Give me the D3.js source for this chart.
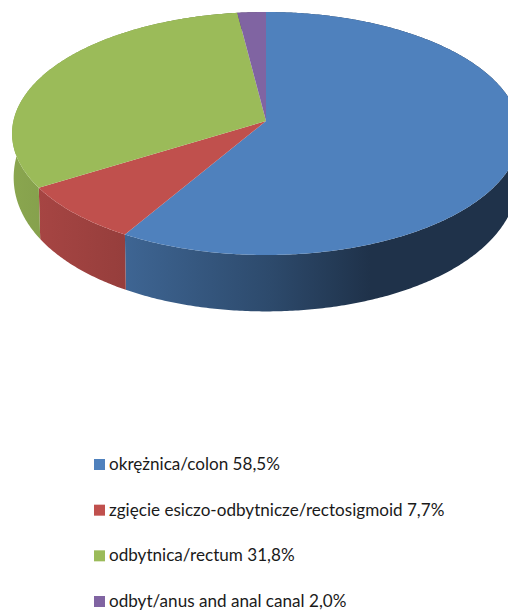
<!DOCTYPE html>
<html>
<head>
<meta charset="utf-8">
<style>
  html, body { margin: 0; padding: 0; background: #fff; overflow: hidden; }
  svg { display: block; }
  text { font-family: Lato, "Open Sans", sans-serif; fill: #1a1a1a; }
</style>
<script src="https://cdn.jsdelivr.net/npm/d3@7"></script>
</head>
<body>
<div id="chart"></div>
<script>
const categories = [
  "okrężnica/colon",
  "zgięcie esiczo-odbytnicze/rectosigmoid",
  "odbytnica/rectum",
  "odbyt/anus and anal canal"
]
const values = [58.5, 7.7, 31.8, 2.0]
const valueLabels = ["58,5%", "7,7%", "31,8%", "2,0%"]
const colors = ["#4f81bd", "#c0504d", "#9bbb59", "#8064a2"]

const width = 508
const height = 610

// projective disk, fitted to the reference rim
const originX = 266
const topRim = { originY: 121, radiusX: 252.6, radiusY: 120.2, tiltX: 0.1029, tiltY: 0.1029 }
const bottomRim = { originY: 163, radiusX: 251, radiusY: 141, tiltX: 0.1029, tiltY: 0.05 }

// how dark the side wall gets going left to right
const shadeX = [12, 125, 270, 370, 520]
const shadeK = [0.89, 0.78, 0.57, 0.39, 0.39]

const svg = d3.select("#chart")
  .append("svg")
  .attr("width", width)
  .attr("height", height)

const project = (rim, angle) => {
  const v = -Math.cos(angle)
  return [
    originX + rim.radiusX * Math.sin(angle) / (1 - rim.tiltX * v),
    rim.originY + rim.radiusY * v / (1 - rim.tiltY * v)
  ]
}

const rimPoints = (rim, a0, a1) => {
  const steps = Math.max(2, Math.ceil((a1 - a0) / 0.01))
  return d3.range(steps + 1).map(i => project(rim, a0 + (a1 - a0) * i / steps))
}

const slices = d3.pie().sort(null).value(d => d)(values)
const line = d3.line()

const defs = svg.append("defs")
slices.forEach((s, i) => {
  const grad = defs.append("linearGradient")
    .attr("id", "side" + i)
    .attr("gradientUnits", "userSpaceOnUse")
    .attr("x1", shadeX[0])
    .attr("x2", shadeX[shadeX.length - 1])
    .attr("y1", 0)
    .attr("y2", 0)
  shadeX.forEach((x, j) => {
    const c = d3.rgb(colors[i])
    grad.append("stop")
      .attr("offset", (x - shadeX[0]) / (shadeX[shadeX.length - 1] - shadeX[0]))
      .attr("stop-color", d3.rgb(c.r * shadeK[j], c.g * shadeK[j], c.b * shadeK[j]).formatHex())
  })
})

// side walls first, top faces cover whatever is at the back
svg.selectAll("path.side")
  .data(slices)
  .enter()
    .append("path")
    .attr("class", "side")
    .attr("d", d => line(
      rimPoints(topRim, d.startAngle, d.endAngle)
        .concat(rimPoints(bottomRim, d.startAngle, d.endAngle).reverse())
    ) + "Z")
    .attr("fill", (d, i) => `url(#side${i})`)

svg.selectAll("path.top")
  .data(slices)
  .enter()
    .append("path")
    .attr("class", "top")
    .attr("d", d => line(
      [[originX, topRim.originY]].concat(rimPoints(topRim, d.startAngle, d.endAngle))
    ) + "Z")
    .attr("fill", (d, i) => colors[i])

// legend
const legendY = d3.scalePoint()
  .domain(categories)
  .range([470, 607])

const legend = svg.selectAll("g.legend")
  .data(categories)
  .enter()
    .append("g")
    .attr("class", "legend")
    .attr("transform", d => `translate(94,${legendY(d)})`)

legend.append("rect")
  .attr("x", 0)
  .attr("y", -11)
  .attr("width", 11)
  .attr("height", 11)
  .attr("fill", (d, i) => colors[i])

legend.append("text")
  .attr("x", 15)
  .attr("y", 0)
  .attr("font-size", 17.1)
  .text((d, i) => `${d} ${valueLabels[i]}`)
</script>
</body>
</html>
